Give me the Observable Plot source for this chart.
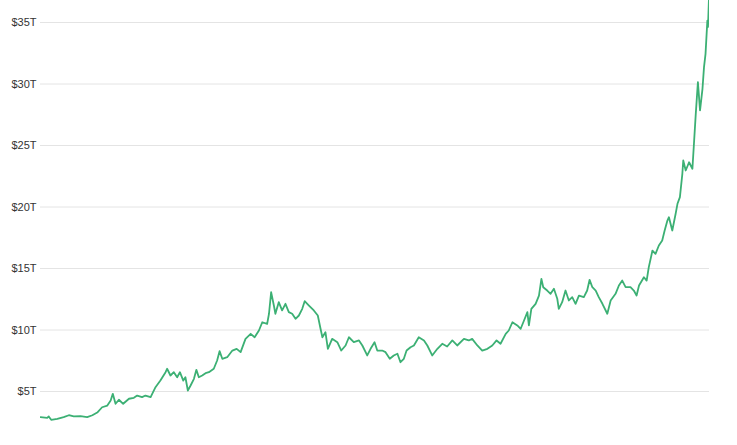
<!DOCTYPE html>
<html>
<head>
<meta charset="utf-8">
<script src="https://cdn.jsdelivr.net/npm/d3@7"></script>
<script src="https://cdn.jsdelivr.net/npm/@observablehq/plot@0.6"></script>
<style>
  html, body { margin: 0; padding: 0; background: #fff; }
  #chart { width: 737px; height: 445px; overflow: hidden; }
</style>
</head>
<body>
<div id="chart"></div>
<script>
// Time (decimal years) and value (trillions of dollars)
const years = [
  2004.00, 2004.22, 2004.27, 2004.35, 2004.55, 2004.76, 2004.93, 2005.09, 2005.31, 2005.53,
  2005.70, 2005.86, 2006.02, 2006.19, 2006.30, 2006.37, 2006.46, 2006.57, 2006.71, 2006.90,
  2007.06, 2007.17, 2007.33, 2007.44, 2007.61, 2007.77, 2007.93, 2008.10, 2008.15, 2008.26,
  2008.37, 2008.48, 2008.57, 2008.68, 2008.75, 2008.83, 2008.92, 2009.03, 2009.11, 2009.19,
  2009.30, 2009.41, 2009.52, 2009.68, 2009.79, 2009.87, 2009.96, 2010.12, 2010.29, 2010.43,
  2010.56, 2010.72, 2010.89, 2011.02, 2011.16, 2011.27, 2011.43, 2011.49, 2011.56, 2011.65,
  2011.70, 2011.81, 2011.92, 2012.03, 2012.14, 2012.25, 2012.36, 2012.47, 2012.58, 2012.66,
  2012.80, 2012.96, 2013.09, 2013.18, 2013.24, 2013.34, 2013.42, 2013.56, 2013.73, 2013.86,
  2014.00, 2014.11, 2014.27, 2014.44, 2014.55, 2014.71, 2014.82, 2014.95, 2015.04, 2015.20,
  2015.31, 2015.45, 2015.58, 2015.70, 2015.80, 2015.91, 2016.00, 2016.13, 2016.24, 2016.40,
  2016.57, 2016.68, 2016.84, 2017.01, 2017.17, 2017.33, 2017.50, 2017.66, 2017.88, 2018.04,
  2018.15, 2018.32, 2018.48, 2018.65, 2018.81, 2018.95, 2019.08, 2019.25, 2019.35, 2019.47,
  2019.63, 2019.74, 2019.85, 2019.96, 2020.01, 2020.09, 2020.23, 2020.34, 2020.42, 2020.48,
  2020.61, 2020.72, 2020.83, 2020.94, 2020.99, 2021.10, 2021.21, 2021.32, 2021.43, 2021.54,
  2021.65, 2021.81, 2021.92, 2022.00, 2022.09, 2022.20, 2022.30, 2022.42, 2022.58, 2022.69,
  2022.85, 2022.96, 2023.07, 2023.18, 2023.34, 2023.45, 2023.54, 2023.62, 2023.78, 2023.87,
  2023.94, 2024.06, 2024.16, 2024.27, 2024.38, 2024.46, 2024.55, 2024.60, 2024.71, 2024.82,
  2024.88, 2024.96, 2025.04, 2025.07, 2025.15, 2025.26, 2025.37, 2025.42, 2025.48, 2025.55,
  2025.62, 2025.70, 2025.75, 2025.80, 2025.86, 2025.88, 2025.91, 2025.93
];
const values = [
  2.91, 2.86, 2.97, 2.70, 2.78, 2.91, 3.07, 2.97, 2.99, 2.91,
  3.07, 3.29, 3.72, 3.86, 4.27, 4.81, 4.00, 4.33, 4.00, 4.41,
  4.49, 4.67, 4.54, 4.67, 4.54, 5.35, 5.89, 6.57, 6.85, 6.30,
  6.57, 6.16, 6.57, 5.89, 6.16, 5.08, 5.49, 6.03, 6.76, 6.16,
  6.30, 6.49, 6.57, 6.85, 7.52, 8.28, 7.66, 7.79, 8.33, 8.47,
  8.20, 9.28, 9.69, 9.41, 9.96, 10.63, 10.50, 11.32, 13.07, 11.99,
  11.32, 12.26, 11.59, 12.13, 11.45, 11.32, 10.91, 11.18, 11.72, 12.34,
  11.99, 11.59, 11.18, 10.10, 9.41, 9.82, 8.47, 9.28, 9.01, 8.33,
  8.74, 9.41, 9.01, 9.15, 8.74, 7.93, 8.47, 9.01, 8.33, 8.33,
  8.20, 7.66, 7.93, 8.07, 7.38, 7.66, 8.33, 8.60, 8.74, 9.41,
  9.15, 8.74, 7.93, 8.47, 8.88, 8.66, 9.15, 8.74, 9.28, 9.15,
  9.28, 8.74, 8.33, 8.47, 8.74, 9.15, 8.88, 9.69, 9.96, 10.63,
  10.37, 10.10, 10.77, 11.45, 10.37, 11.72, 12.13, 12.80, 14.16, 13.48,
  13.21, 12.94, 13.35, 12.54, 11.72, 12.26, 13.21, 12.40, 12.67, 12.13,
  12.80, 12.67, 13.21, 14.08, 13.48, 13.21, 12.67, 12.13, 11.32, 12.40,
  12.94, 13.62, 14.02, 13.48, 13.48, 13.21, 12.80, 13.62, 14.29, 14.02,
  15.11, 16.46, 16.19, 16.87, 17.28, 18.09, 18.90, 19.17, 18.09, 19.45,
  20.26, 20.80, 22.70, 23.78, 22.97, 23.64, 23.11, 25.14, 27.57, 30.15,
  27.85, 29.61, 31.37, 32.45, 35.16, 34.62, 36.79, 37.60
];
const tickValues = [5, 10, 15, 20, 25, 30, 35];
const tickLabels = ["$5T", "$10T", "$15T", "$20T", "$25T", "$30T", "$35T"];

const data = years.map((t, i) => ({t, v: values[i]}));

const chart = Plot.plot({
  width: 737,
  height: 445,
  marginLeft: 40,
  marginRight: 28,
  marginTop: 0,
  marginBottom: 0,
  style: {fontFamily: "'Liberation Sans', Arial, Helvetica, sans-serif", fontSize: "11px", background: "#fff", color: "#333"},
  x: {axis: null},
  y: {domain: [0, 35], range: [452.5, 22]},
  marks: [
    Plot.gridY(tickValues, {stroke: "#e4e4e4", strokeOpacity: 1, strokeWidth: 1}),
    Plot.axisY(tickValues, {
      tickSize: 0,
      tickPadding: 4,
      tickFormat: (d) => tickLabels[tickValues.indexOf(d)],
      fill: "#333",
      label: null
    }),
    Plot.line(data, {x: "t", y: "v", stroke: "#3cb074", strokeWidth: 1.8, strokeLinejoin: "round", clip: true})
  ]
});
document.getElementById("chart").appendChild(chart);
</script>
</body>
</html>
